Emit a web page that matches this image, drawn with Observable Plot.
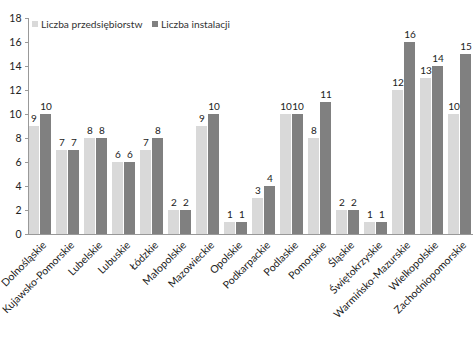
<!DOCTYPE html>
<html><head><meta charset="utf-8">
<script src="https://cdn.jsdelivr.net/npm/d3@7"></script>
<script src="https://cdn.jsdelivr.net/npm/@observablehq/plot@0.6"></script>
<style>
body{margin:0;background:#fff;font-family:Lato,"Open Sans",sans-serif;}
#wrap{position:relative;width:474px;height:351px;}
#legend span.item{position:absolute;top:18px;display:flex;align-items:center;font-size:10.2px;color:#333;white-space:nowrap;}
#legend i{display:inline-block;width:6px;height:6px;margin-right:3px;}
</style></head>
<body><div id="wrap"><div id="legend"></div></div>
<script>
const regions = ["Dolnośląskie","Kujawsko-Pomorskie","Lubelskie","Lubuskie","Łódzkie","Małopolskie","Mazowieckie","Opolskie","Podkarpackie","Podlaskie","Pomorskie","Śląskie","Świętokrzyskie","Warmińsko-Mazurskie","Wielkopolskie","Zachodniopomorskie"];
const firms    = [9,7,8,6,7,2,9,1,3,10,8,2,1,12,13,10];
const installs = [10,7,8,6,8,2,10,1,4,10,11,2,1,16,14,15];
const seriesNames = ["Liczba przedsiębiorstw","Liczba instalacji"];
const colors = ["#d9d9d9","#808080"];
const yTicks = [0,2,4,6,8,10,12,14,16,18];

const data = regions.flatMap((r,i)=>[
  {region:r, series:seriesNames[0], value:firms[i]},
  {region:r, series:seriesNames[1], value:installs[i]}
]);

const chart = Plot.plot({
  width:474, height:351,
  marginLeft:25, marginRight:0, marginTop:18, marginBottom:117,
  style:{fontFamily:"Lato, 'Open Sans', sans-serif", fontSize:"10px", color:"#333"},
  fx:{domain:regions, paddingInner:0.15, paddingOuter:0.08, label:null},
  x:{domain:seriesNames, paddingInner:0.08, paddingOuter:0, axis:null},
  y:{domain:[0,18], label:null},
  color:{domain:seriesNames, range:colors},
  marks:[
    Plot.barY(data,{fx:"region", x:"series", y:"value", fill:"series"}),
    Plot.text(data,{fx:"region", x:"series", y:"value", text:d=>String(d.value), dy:-8, fill:"#222", fontSize:10}),
    Plot.frame({anchor:"bottom", facet:"super", stroke:"#999"}),
    Plot.frame({anchor:"left", facet:"super", stroke:"#999"}),
    Plot.axisY({ticks:yTicks, tickSize:3, tickPadding:4, stroke:"#999", fill:"#222", fontSize:10.5, label:null}),
    Plot.axisFx({tickRotate:-45, tickSize:0, tickPadding:9, dx:4, fill:"#222", fontSize:10.5, label:null, anchor:"bottom"})
  ]
});
document.getElementById("wrap").prepend(chart);
const leg = document.getElementById("legend");
const legX = [32, 152];
seriesNames.forEach((s,i)=>{
  const it = document.createElement("span");
  it.className="item";
  it.style.left = legX[i] + "px";
  it.innerHTML = `<i style="background:${colors[i]}"></i>${s}`;
  leg.appendChild(it);
});
</script></body></html>
